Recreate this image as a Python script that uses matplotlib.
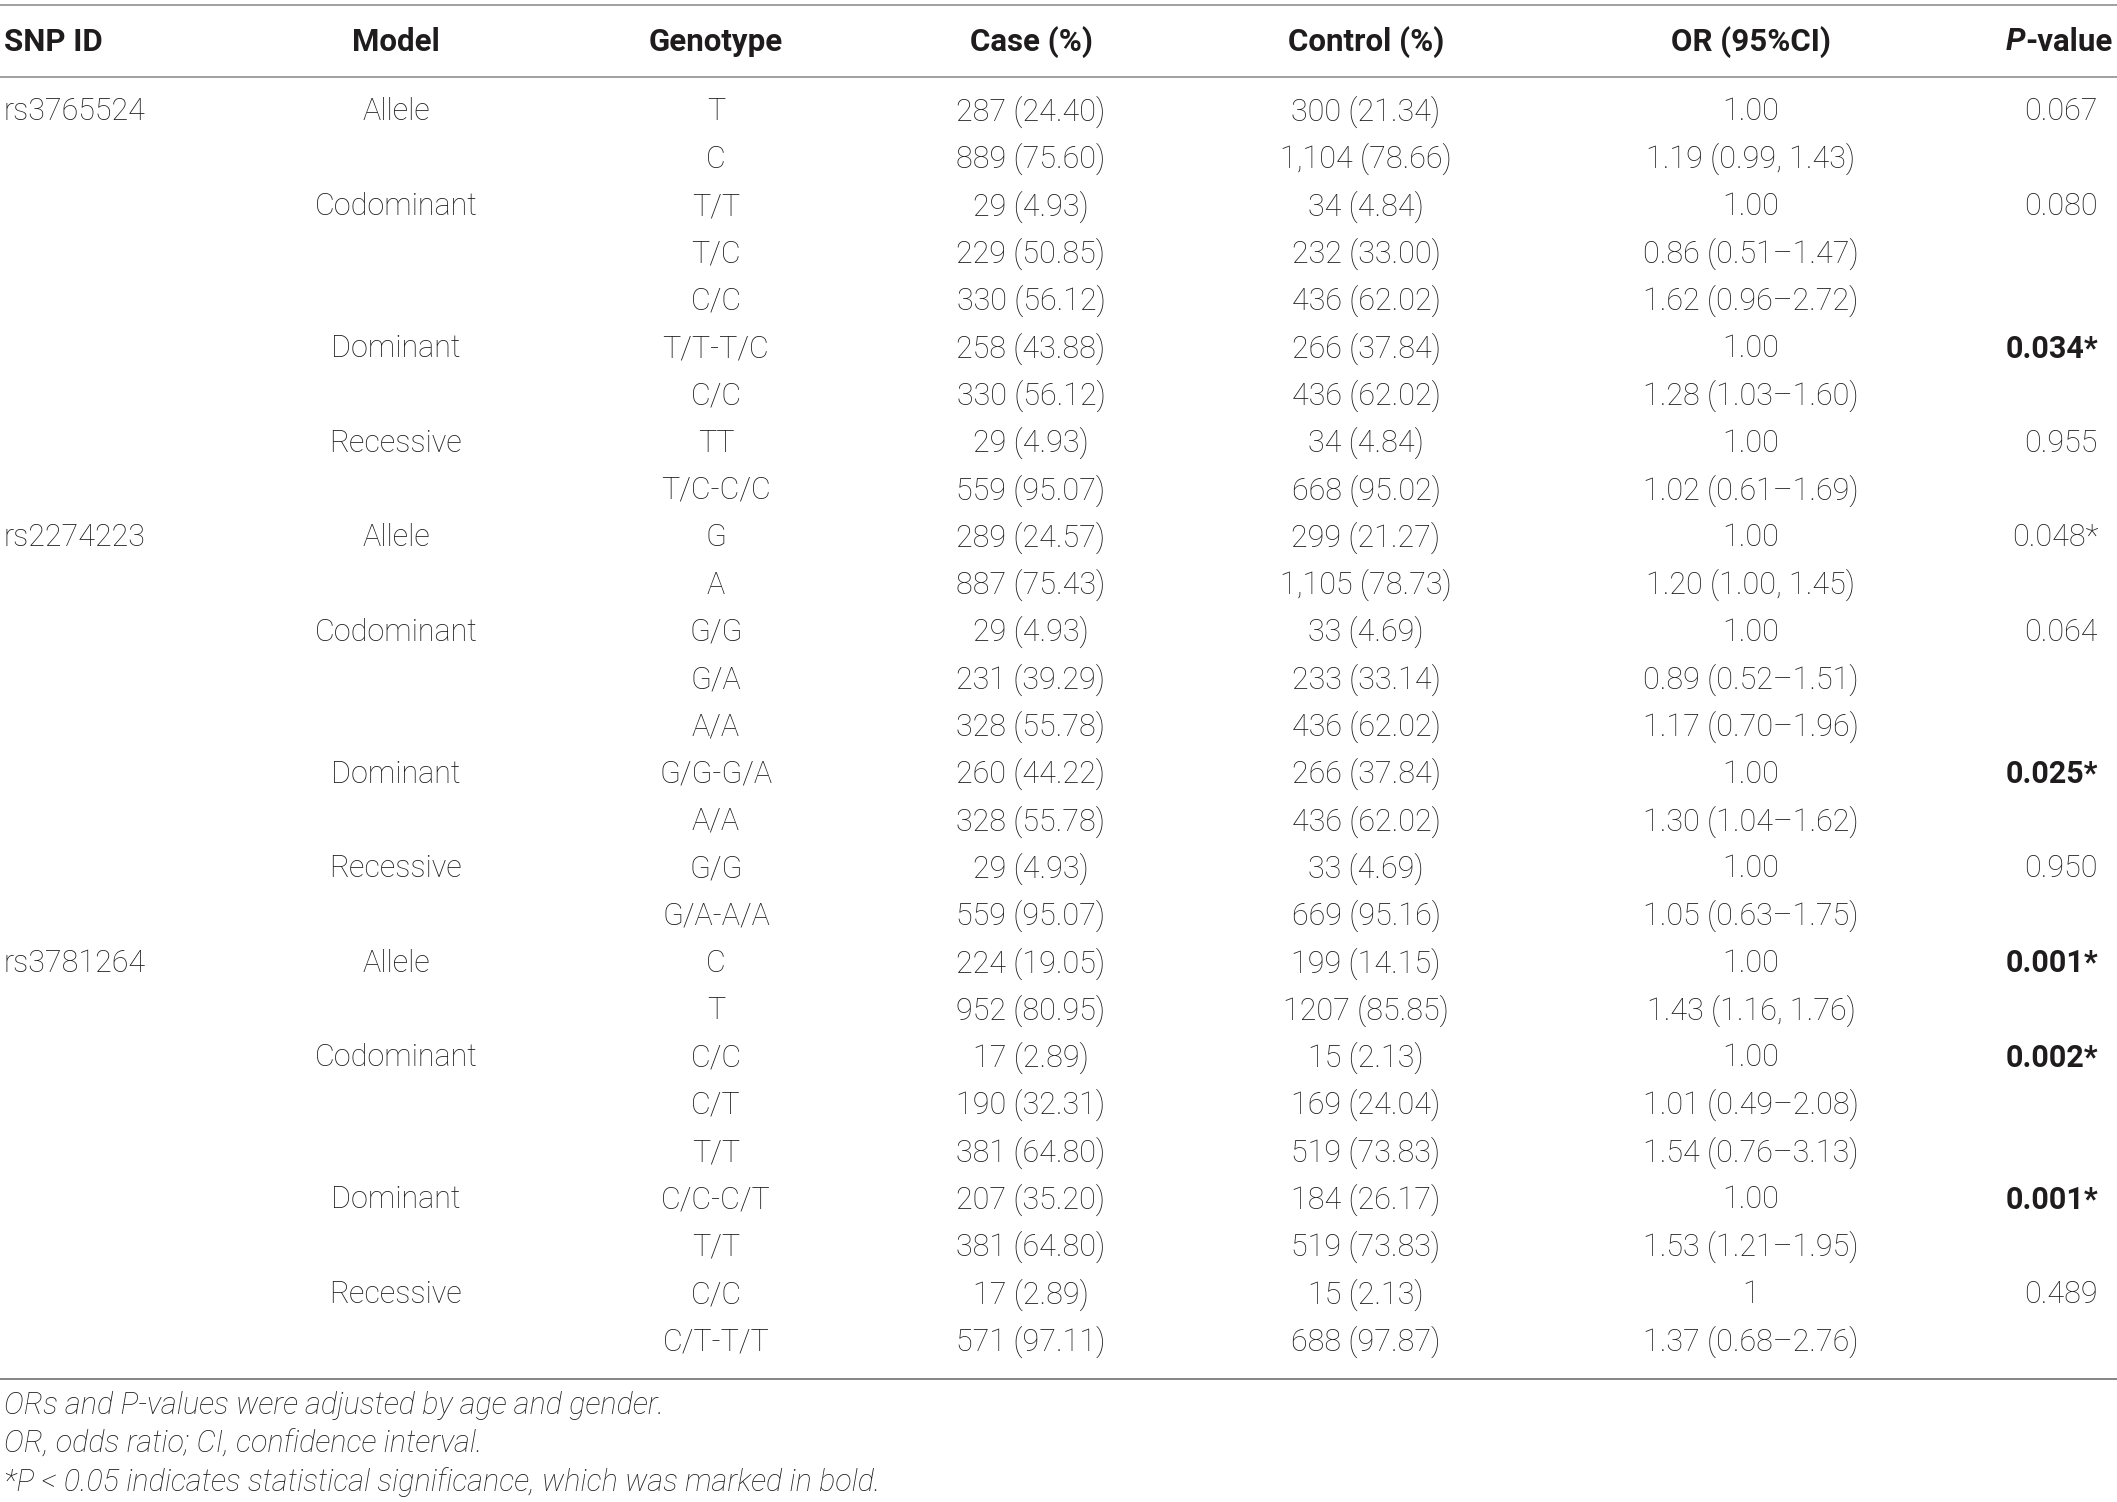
import matplotlib
matplotlib.use("Agg")
import matplotlib.pyplot as plt

headers = ["SNP ID", "Model", "Genotype", "Case (%)", "Control (%)", "OR (95%CI)", "P-value"]

snp_ids = ["rs3765524", "", "", "", "", "", "", "", "",
           "rs2274223", "", "", "", "", "", "", "", "",
           "rs3781264", "", "", "", "", "", "", "", ""]
models = ["Allele", "", "Codominant", "", "", "Dominant", "", "Recessive", "",
          "Allele", "", "Codominant", "", "", "Dominant", "", "Recessive", "",
          "Allele", "", "Codominant", "", "", "Dominant", "", "Recessive", ""]
genotypes = ["T", "C", "T/T", "T/C", "C/C", "T/T-T/C", "C/C", "TT", "T/C-C/C",
             "G", "A", "G/G", "G/A", "A/A", "G/G-G/A", "A/A", "G/G", "G/A-A/A",
             "C", "T", "C/C", "C/T", "T/T", "C/C-C/T", "T/T", "C/C", "C/T-T/T"]
cases = ["287 (24.40)", "889 (75.60)", "29 (4.93)", "229 (50.85)", "330 (56.12)",
         "258 (43.88)", "330 (56.12)", "29 (4.93)", "559 (95.07)",
         "289 (24.57)", "887 (75.43)", "29 (4.93)", "231 (39.29)", "328 (55.78)",
         "260 (44.22)", "328 (55.78)", "29 (4.93)", "559 (95.07)",
         "224 (19.05)", "952 (80.95)", "17 (2.89)", "190 (32.31)", "381 (64.80)",
         "207 (35.20)", "381 (64.80)", "17 (2.89)", "571 (97.11)"]
controls = ["300 (21.34)", "1,104 (78.66)", "34 (4.84)", "232 (33.00)", "436 (62.02)",
            "266 (37.84)", "436 (62.02)", "34 (4.84)", "668 (95.02)",
            "299 (21.27)", "1,105 (78.73)", "33 (4.69)", "233 (33.14)", "436 (62.02)",
            "266 (37.84)", "436 (62.02)", "33 (4.69)", "669 (95.16)",
            "199 (14.15)", "1207 (85.85)", "15 (2.13)", "169 (24.04)", "519 (73.83)",
            "184 (26.17)", "519 (73.83)", "15 (2.13)", "688 (97.87)"]
ors = ["1.00", "1.19 (0.99, 1.43)", "1.00", "0.86 (0.51\u20131.47)", "1.62 (0.96\u20132.72)",
       "1.00", "1.28 (1.03\u20131.60)", "1.00", "1.02 (0.61\u20131.69)",
       "1.00", "1.20 (1.00, 1.45)", "1.00", "0.89 (0.52\u20131.51)", "1.17 (0.70\u20131.96)",
       "1.00", "1.30 (1.04\u20131.62)", "1.00", "1.05 (0.63\u20131.75)",
       "1.00", "1.43 (1.16, 1.76)", "1.00", "1.01 (0.49\u20132.08)", "1.54 (0.76\u20133.13)",
       "1.00", "1.53 (1.21\u20131.95)", "1", "1.37 (0.68\u20132.76)"]
pvalues = ["0.067", "", "0.080", "", "", "0.034*", "", "0.955", "",
           "0.048*", "", "0.064", "", "", "0.025*", "", "0.950", "",
           "0.001*", "", "0.002*", "", "", "0.001*", "", "0.489", ""]
pbold = [False, False, False, False, False, True, False, False, False,
         False, False, False, False, False, True, False, False, False,
         True, False, True, False, False, True, False, False, False]

footnotes = ["ORs and P-values were adjusted by age and gender.",
             "OR, odds ratio; CI, confidence interval.",
             "*P < 0.05 indicates statistical significance, which was marked in bold."]

W, H = 2117, 1502
FONT = ["Roboto", "Liberation Sans", "DejaVu Sans"]
plt.rcParams['font.family'] = FONT
TXT = "#1e1c1d"
FS = 22.0
FS_HEAD = 22.5
FS_FOOT = 22.0

fig = plt.figure(figsize=(W / 100, H / 100), dpi=100)
ax = fig.add_axes([0, 0, 1, 1])
ax.set_xlim(0, W)
ax.set_ylim(H, 0)
ax.axis("off")

# column anchors (x, alignment)
cols = [(4, "left"), (396, "center"), (716, "center"), (1031, "center"),
        (1366, "center"), (1751, "center"), (2098, "right")]

y_header = 42
y0 = 112
dy = 47.3

# rules
for yl, colr in ((5, "#a0a0a0"), (77, "#a0a0a0"), (1379, "#858585")):
    ax.plot([0, W], [yl, yl], color=colr, lw=1.4, solid_capstyle="butt")

# header
for i, h in enumerate(headers[:-1]):
    x, ha = cols[i]
    ax.text(x, y_header, h, ha=ha, va="center", fontsize=FS_HEAD, fontweight="bold", color=TXT)
rend = fig.canvas.get_renderer()
t = ax.text(2113, y_header, "-value", ha="right", va="center", fontsize=FS_HEAD,
            fontweight="bold", color=TXT)
bb = t.get_window_extent(renderer=rend)
xleft = ax.transData.inverted().transform((bb.x0, bb.y0))[0]
ax.text(xleft, y_header, "P", ha="right", va="center", fontsize=FS_HEAD,
        fontweight="bold", fontstyle="italic", color=TXT)

columns = [snp_ids, models, genotypes, cases, controls, ors, pvalues]
for r in range(len(genotypes)):
    y = y0 + r * dy
    for c, col in enumerate(columns):
        s = col[r]
        if not s:
            continue
        x, ha = cols[c]
        weight = "bold" if (c == 6 and pbold[r]) else "light"
        ax.text(x, y, s, ha=ha, va="center", fontsize=FS, fontweight=weight, color=TXT)

for k, fn in enumerate(footnotes):
    ax.text(4, 1406 + k * 38, fn, ha="left", va="center", fontsize=FS_FOOT,
            fontstyle="italic", fontweight="light", color=TXT)

fig.savefig("out.png", dpi=100, facecolor="white")
